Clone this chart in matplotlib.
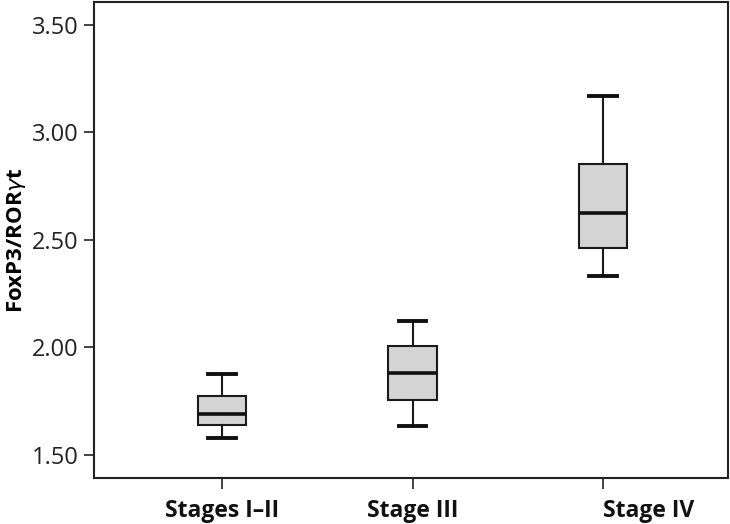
import matplotlib
matplotlib.use('Agg')
import matplotlib.pyplot as plt

# stage groups and box statistics
labels = ['Stages I–II', 'Stage III', 'Stage IV']
whislo = [1.581, 1.636, 2.332]
q1 = [1.641, 1.754, 2.461]
med = [1.692, 1.881, 2.625]
q3 = [1.772, 2.005, 2.854]
whishi = [1.875, 2.121, 3.170]
yticks = [1.50, 2.00, 2.50, 3.00, 3.50]

plt.rcParams['font.family'] = ['Open Sans', 'DejaVu Sans']

stats = []
for i in range(len(labels)):
    stats.append({'label': labels[i], 'whislo': whislo[i], 'q1': q1[i],
                  'med': med[i], 'q3': q3[i], 'whishi': whishi[i], 'fliers': []})

fig = plt.figure(figsize=(7.3, 5.24), dpi=100)
ax = fig.add_axes([0.1288, 0.0878, 0.8685, 0.9084])

ax.bxp(stats, positions=[1, 2, 3], widths=0.253, capwidths=0.143,
       patch_artist=True, showfliers=False,
       boxprops={'facecolor': '#d4d4d4', 'edgecolor': '#1a1a1a', 'linewidth': 1.5},
       medianprops={'color': '#111111', 'linewidth': 2.6},
       whiskerprops={'color': '#1a1a1a', 'linewidth': 1.5},
       capprops={'color': '#111111', 'linewidth': 2.8})

ax.set_xlim(0.328, 3.656)
ax.set_ylim(1.393, 3.606)
ax.set_yticks(yticks)
ax.set_yticklabels(['%.2f' % v for v in yticks], fontsize=17, color='#222222')
ax.set_xticks([1, 2, 3])
ax.set_xticklabels(labels, fontsize=16.5, fontweight='bold', color='#111111')
ax.set_ylabel('FoxP3/ROR$\\gamma$t', fontsize=16, fontweight='bold', labelpad=3)

# the last label starts at its tick in the original instead of being centred
ax.get_xticklabels()[-1].set_horizontalalignment('left')

for s in ax.spines.values():
    s.set_color('#222222')
    s.set_linewidth(1.5)
ax.tick_params(axis='y', length=7, width=1.2, color='#222222', pad=4)
ax.tick_params(axis='x', length=8, width=1.2, color='#222222', pad=7)

fig.savefig('out.png', dpi=100)
